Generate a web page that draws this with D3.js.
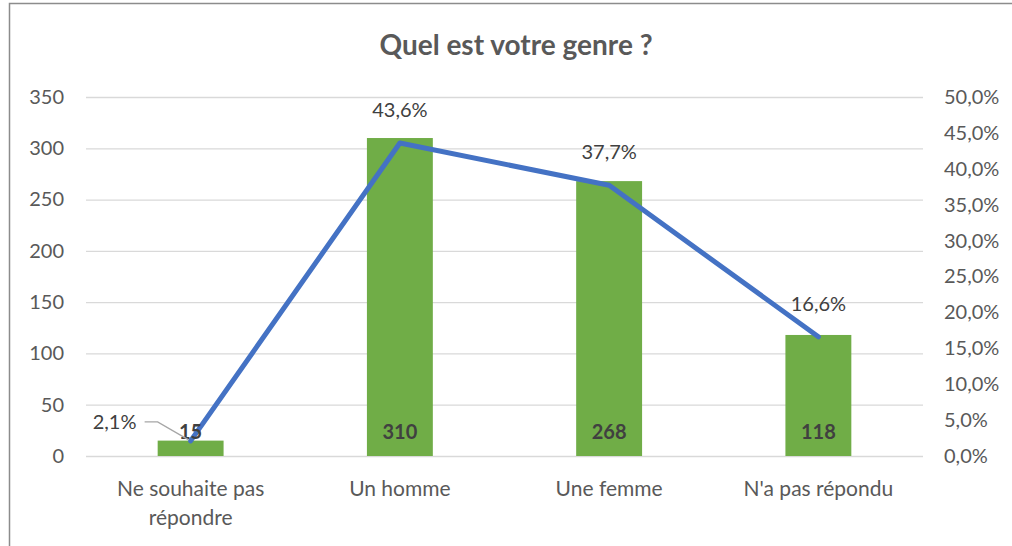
<!DOCTYPE html>
<html>
<head>
<meta charset="utf-8">
<script src="https://cdn.jsdelivr.net/npm/d3@7"></script>
<style>
  body { margin: 0; background: #fff; }
  svg { display: block; font-family: Lato, "Open Sans", sans-serif; }
</style>
</head>
<body>
<svg width="1012" height="546"></svg>
<script>
// data
var categories = ["Ne souhaite pas répondre", "Un homme", "Une femme", "N'a pas répondu"];
var counts = [15, 310, 268, 118];
var percents = [0.021, 0.436, 0.377, 0.166];
var countTicks = [0, 50, 100, 150, 200, 250, 300, 350];
var pctTicks = [0, 0.05, 0.10, 0.15, 0.20, 0.25, 0.30, 0.35, 0.40, 0.45, 0.50];

var svg = d3.select("svg"),
    margin = {top: 97, right: 89, bottom: 90, left: 86},
    width = +svg.attr("width") - margin.left - margin.right,
    height = +svg.attr("height") - margin.top - margin.bottom,
    g = svg.append("g").attr("transform", "translate(" + margin.left + "," + margin.top + ")");

var textColor = "#595959";

// chart frame (runs off the right and bottom edges)
svg.append("rect")
    .attr("x", 9.5).attr("y", 3.5)
    .attr("width", 1020).attr("height", 560)
    .attr("fill", "none")
    .attr("stroke", "#8c8c8c")
    .attr("stroke-width", 1.5);

svg.append("text")
    .attr("x", 516).attr("y", 55)
    .attr("text-anchor", "middle")
    .attr("fill", textColor)
    .style("font-size", "28px")
    .style("font-weight", "bold")
    .text("Quel est votre genre ?");

var x = d3.scaleBand()
    .domain(categories)
    .range([0, width])
    .paddingInner(0.685)
    .paddingOuter(0.3425);

var xc = d3.scaleBand().domain(categories).range([0, width]);

var y = d3.scaleLinear().domain([0, 350]).range([height, 0]);
var y2 = d3.scaleLinear().domain([0, 0.5]).range([height, 0]);

var pctFormat = function(v, digits) {
    return (v * 100).toFixed(digits).replace(".", ",") + "%";
};

// gridlines
g.append("g")
    .selectAll("line")
    .data(countTicks)
  .enter().append("line")
    .attr("x1", 0).attr("x2", width)
    .attr("y1", function(d) { return y(d) + 0.5; })
    .attr("y2", function(d) { return y(d) + 0.5; })
    .attr("stroke", "#d9d9d9")
    .attr("stroke-width", 1.3);

// left axis
var leftAxis = g.append("g")
    .call(d3.axisLeft(y).tickValues(countTicks).tickSize(0).tickPadding(22));
leftAxis.select(".domain").remove();
leftAxis.selectAll("text")
    .attr("fill", textColor)
    .style("font-size", "20px")
    .style("font-family", "Lato, sans-serif");

// right axis
var rightAxis = g.append("g")
    .attr("transform", "translate(" + width + ",0)")
    .call(d3.axisRight(y2).tickValues(pctTicks).tickSize(0).tickPadding(21)
        .tickFormat(function(d) { return pctFormat(d, 1); }));
rightAxis.select(".domain").remove();
rightAxis.selectAll("text")
    .attr("fill", textColor)
    .style("font-size", "20px")
    .style("font-family", "Lato, sans-serif");

// category labels
var catLabels = g.append("g").selectAll("text")
    .data(categories)
  .enter().append("text")
    .attr("text-anchor", "middle")
    .attr("fill", textColor)
    .style("font-size", "21px")
    .attr("transform", function(d) {
        return "translate(" + (xc(d) + xc.bandwidth() / 2) + "," + (height + 40) + ")";
    });
catLabels.each(function(d) {
    var lines = d === "Ne souhaite pas répondre" ? ["Ne souhaite pas", "répondre"] : [d];
    d3.select(this).selectAll("tspan")
        .data(lines)
      .enter().append("tspan")
        .attr("x", 0)
        .attr("dy", function(l, i) { return i === 0 ? 0 : 29; })
        .text(function(l) { return l; });
});

// bars
g.selectAll(".bar")
    .data(categories)
  .enter().append("rect")
    .attr("class", "bar")
    .attr("x", function(d) { return x(d); })
    .attr("width", x.bandwidth())
    .attr("y", function(d, i) { return y(counts[i]); })
    .attr("height", function(d, i) { return height - y(counts[i]); })
    .attr("fill", "#70ad47");

// line
var line = d3.line()
    .x(function(d, i) { return xc(categories[i]) + xc.bandwidth() / 2; })
    .y(function(d) { return y2(d); });

g.append("path")
    .datum(percents)
    .attr("fill", "none")
    .attr("stroke", "#4472c4")
    .attr("stroke-width", 5)
    .attr("stroke-linejoin", "round")
    .attr("stroke-linecap", "round")
    .attr("d", line);

// count labels inside bars
g.selectAll(".count")
    .data(counts)
  .enter().append("text")
    .attr("class", "count")
    .attr("x", function(d, i) { return xc(categories[i]) + xc.bandwidth() / 2; })
    .attr("y", height - 17)
    .attr("text-anchor", "middle")
    .attr("fill", "#404040")
    .style("font-size", "20px")
    .style("font-weight", "bold")
    .text(function(d) { return d; });

// percent labels
g.selectAll(".pct")
    .data(percents)
  .enter().append("text")
    .attr("class", "pct")
    .attr("x", function(d, i) {
        var cx = xc(categories[i]) + xc.bandwidth() / 2;
        return i === 0 ? cx - 76 : cx;
    })
    .attr("y", function(d, i) { return i === 0 ? y2(d) - 12 : y2(d) - 26; })
    .attr("text-anchor", "middle")
    .attr("fill", "#404040")
    .style("font-size", "20px")
    .text(function(d) { return pctFormat(d, 1); });

// leader line for the first percent label
var p0x = xc(categories[0]) + xc.bandwidth() / 2,
    p0y = y2(percents[0]);
g.append("polyline")
    .attr("points", [[p0x - 46, p0y - 19], [p0x - 33, p0y - 19], [p0x - 2, p0y - 1]].join(" "))
    .attr("fill", "none")
    .attr("stroke", "#a6a6a6")
    .attr("stroke-width", 1.3);
</script>
</body>
</html>
